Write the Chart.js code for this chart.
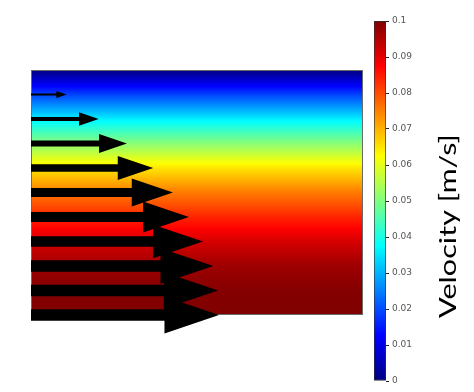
<!DOCTYPE html>
<html>
<head>
<meta charset="utf-8">
<script src="https://cdn.jsdelivr.net/npm/chart.js@4.4.1/dist/chart.umd.min.js"></script>
<style>
html,body{margin:0;padding:0;background:#fff;}
#wrap{position:relative;width:474px;height:392px;overflow:hidden;}
#wrap canvas{position:absolute;left:0;top:0;}
</style>
</head>
<body>
<div id="wrap">
<canvas id="field" width="474" height="392"></canvas>
<canvas id="cbar" width="474" height="392"></canvas>
</div>
<script>
// ---- data ----
// arrow rows: height above bottom boundary (row index units, top wall at 10)
const heights = [0, 1, 2, 3, 4, 5, 6, 7, 8, 9];
// velocity (m/s) at each row
const velocities = [0.1, 0.0995, 0.097, 0.0915, 0.084, 0.0755, 0.065, 0.051, 0.036, 0.019];
// top wall (no slip)
const wallHeight = 10;
const wallVelocity = 0;
// colour bar
const colorRange = [0, 0.1];
const tickValues = [0, 0.01, 0.02, 0.03, 0.04, 0.05, 0.06, 0.07, 0.08, 0.09, 0.1];
const tickLabels = ['0', '0.01', '0.02', '0.03', '0.04', '0.05', '0.06', '0.07', '0.08', '0.09', '0.1'];
const colorTitle = 'Velocity [m/s]';

// ---- helpers ----
function clamp(v){ return Math.max(0, Math.min(1, v)); }
function jet(t){
  t = clamp(t);
  const r = clamp(Math.min(4*t - 1.5, -4*t + 4.5));
  const g = clamp(Math.min(4*t - 0.5, -4*t + 3.5));
  const b = clamp(Math.min(4*t + 0.5, -4*t + 2.5));
  return 'rgb(' + Math.round(r*255) + ',' + Math.round(g*255) + ',' + Math.round(b*255) + ')';
}
function norm(v){ return (v - colorRange[0]) / (colorRange[1] - colorRange[0]); }

const profileH = heights.concat([wallHeight]);
const profileV = velocities.concat([wallVelocity]);

// ---- field chart (gradient + arrows) ----
const fieldPlugin = {
  id: 'fieldPlugin',
  beforeDatasetsDraw(chart){
    const {ctx, chartArea: a, scales: {y}} = chart;
    const yTop = y.getPixelForValue(wallHeight);
    const yBot = y.getPixelForValue(heights[0]);
    const g = ctx.createLinearGradient(0, yTop, 0, yBot);
    for (let i = 0; i < profileH.length - 1; i++){
      const p0 = y.getPixelForValue(profileH[i]), p1 = y.getPixelForValue(profileH[i+1]);
      const steps = 12;
      for (let s = 0; s <= steps; s++){
        const f = s / steps;
        const pix = p0 + (p1 - p0) * f;
        const v = profileV[i] + (profileV[i+1] - profileV[i]) * f;
        g.addColorStop(clamp((pix - yTop) / (yBot - yTop)), jet(norm(v)));
      }
    }
    ctx.save();
    ctx.fillStyle = g;
    ctx.fillRect(a.left, yTop, a.right - a.left, yBot - yTop);
    ctx.strokeStyle = '#6a6a6a';
    ctx.lineWidth = 1;
    ctx.strokeRect(a.left + 0.5, yTop + 0.5, a.right - a.left - 1, yBot - yTop - 1);
    ctx.restore();
  },
  afterDatasetsDraw(chart){
    const {ctx, scales: {x}} = chart;
    const meta = chart.getDatasetMeta(0);
    const x0 = x.getPixelForValue(0);
    ctx.save();
    ctx.fillStyle = '#000';
    meta.data.forEach(el => {
      const tx = el.x, ty = el.y;
      const L = tx - x0;
      const hl = 0.29 * L, hh = 0.098 * L, sw = Math.max(1, 0.031 * L);
      ctx.beginPath();
      ctx.moveTo(x0, ty - sw);
      ctx.lineTo(tx - hl, ty - sw);
      ctx.lineTo(tx - hl, ty - hh);
      ctx.lineTo(tx, ty);
      ctx.lineTo(tx - hl, ty + hh);
      ctx.lineTo(tx - hl, ty + sw);
      ctx.lineTo(x0, ty + sw);
      ctx.closePath();
      ctx.fill();
    });
    ctx.restore();
  }
};

new Chart(document.getElementById('field'), {
  type: 'scatter',
  data: {
    datasets: [{
      data: heights.map((h, i) => ({x: velocities[i], y: h})),
      pointRadius: 0,
      pointHoverRadius: 0
    }]
  },
  options: {
    responsive: false,
    animation: false,
    devicePixelRatio: 1,
    layout: {padding: {left: 31, top: 70, right: 111, bottom: 77}},
    scales: {
      x: {type: 'linear', min: 0, max: 0.1766, display: false},
      y: {type: 'linear', min: 0, max: 10, display: false}
    },
    plugins: {legend: {display: false}, tooltip: {enabled: false}}
  },
  plugins: [fieldPlugin]
});

// ---- colour bar chart ----
const titlePlugin = {
  id: 'titlePlugin',
  afterDraw(chart){
    const ctx = chart.ctx;
    ctx.save();
    ctx.translate(448, 226);
    ctx.rotate(-Math.PI / 2);
    ctx.font = '24px Lato';
    const w = ctx.measureText(colorTitle).width;
    ctx.scale(184 / w, 1);
    ctx.fillStyle = '#000';
    ctx.textAlign = 'center';
    ctx.textBaseline = 'middle';
    ctx.fillText(colorTitle, 0, 0);
    ctx.restore();
  }
};

new Chart(document.getElementById('cbar'), {
  type: 'bar',
  data: {
    labels: ['cb'],
    datasets: [{
      data: [colorRange],
      barPercentage: 1,
      categoryPercentage: 1,
      borderWidth: 1,
      borderColor: '#333',
      borderSkipped: false,
      backgroundColor(ctx){
        const chart = ctx.chart;
        const a = chart.chartArea;
        if (!a) return '#888';
        const y = chart.scales.y;
        const g = chart.ctx.createLinearGradient(0, y.getPixelForValue(colorRange[0]), 0, y.getPixelForValue(colorRange[1]));
        for (let s = 0; s <= 40; s++){
          g.addColorStop(s / 40, jet(s / 40));
        }
        return g;
      }
    }]
  },
  options: {
    responsive: false,
    animation: false,
    devicePixelRatio: 1,
    layout: {padding: {left: 374, top: 21, right: 0, bottom: 11}},
    scales: {
      x: {display: false},
      y: {
        position: 'right',
        min: colorRange[0],
        max: colorRange[1],
        afterBuildTicks(scale){ scale.ticks = tickValues.map(v => ({value: v})); },
        afterFit(scale){ scale.width = 88; },
        ticks: {
          callback: (v, i) => tickLabels[i],
          font: {family: 'DejaVu Sans', size: 9},
          color: '#555',
          padding: 3
        },
        grid: {drawOnChartArea: false, drawTicks: true, tickLength: 3, color: '#222'},
        border: {display: false}
      }
    },
    plugins: {legend: {display: false}, tooltip: {enabled: false}}
  },
  plugins: [titlePlugin]
});
</script>
</body>
</html>
